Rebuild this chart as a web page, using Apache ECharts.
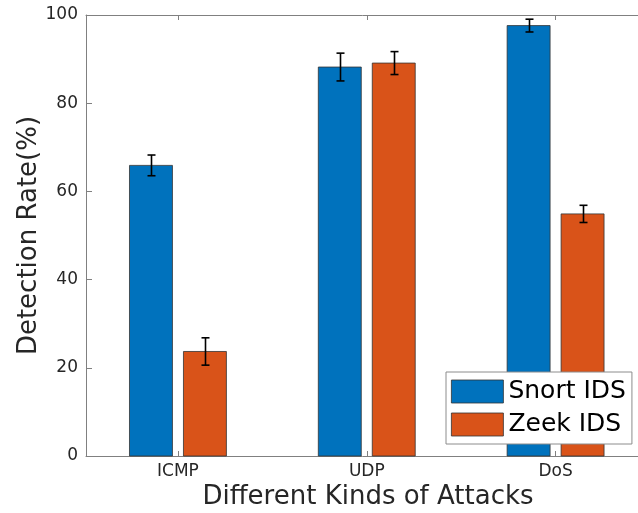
<!DOCTYPE html>
<html>
<head>
<meta charset="utf-8">
<script src="https://cdn.jsdelivr.net/npm/echarts@6/dist/echarts.min.js"></script>
<style>html,body{margin:0;padding:0;background:#fff}#c{width:638px;height:513px}</style>
</head>
<body>
<div id="c"></div>
<script>
const categories = ['ICMP', 'UDP', 'DoS'];
const categoryPositions = [1, 2, 3];
const snortValues = [65.9, 88.2, 97.6];
const snortErrors = [2.35, 3.15, 1.45];
const zeekValues = [23.7, 89.1, 54.9];
const zeekErrors = [3.1, 2.6, 1.95];
const yTicks = [0, 20, 40, 60, 80, 100];
const seriesNames = ['Snort IDS', 'Zeek IDS'];

const SNORT = '#0072BD';
const ZEEK = '#D95319';
const FONT = 'DejaVu Sans';
const TXT = '#262626';
const AX = '#808080';

const BAR_W = 0.2275;   // in x units
const OFFSET = 0.1429;  // group offset in x units
const CAP = 4;          // px

function makeRender(offset, color) {
  return function (params, api) {
    const x = api.value(0) + offset;
    const v = api.value(1);
    const e = api.value(2);
    const p0 = api.coord([x - BAR_W / 2, 0]);
    const p1 = api.coord([x + BAR_W / 2, v]);
    const c = api.coord([x, v]);
    const hi = api.coord([x, v + e]);
    const lo = api.coord([x, v - e]);
    const cx = Math.round(c[0]) + 0.5;
    return {
      type: 'group',
      children: [
        { type: 'rect', shape: { x: p0[0], y: p1[1], width: p1[0] - p0[0], height: p0[1] - p1[1] },
          style: { fill: color, stroke: '#333', lineWidth: 0.8 } },
        { type: 'line', shape: { x1: cx, y1: hi[1], x2: cx, y2: lo[1] }, style: { stroke: '#000', lineWidth: 1.6 }, z2: 10 },
        { type: 'line', shape: { x1: cx - CAP, y1: hi[1], x2: cx + CAP, y2: hi[1] }, style: { stroke: '#000', lineWidth: 1.6 }, z2: 10 },
        { type: 'line', shape: { x1: cx - CAP, y1: lo[1], x2: cx + CAP, y2: lo[1] }, style: { stroke: '#000', lineWidth: 1.6 }, z2: 10 }
      ]
    };
  };
}

const chart = echarts.init(document.getElementById('c'), null, { renderer: 'canvas' });
const xMin = 0.513, xMax = 3.5;
chart.setOption({
  animation: false,
  backgroundColor: '#fff',
  textStyle: { fontFamily: FONT },
  grid: { left: 86, right: -12, top: 15, bottom: 57, containLabel: false, outerBoundsMode: 'none' },
  legend: {
    left: 446, top: 372, orient: 'vertical',
    padding: [7, 6, 7, 5], itemGap: 8, itemWidth: 52, itemHeight: 23,
    icon: 'rect',
    backgroundColor: '#fff', borderColor: '#8c8c8c', borderWidth: 1, borderRadius: 0,
    textStyle: { fontFamily: FONT, fontSize: 25, color: '#000', lineHeight: 23, padding: [0, 0, 0, 0] },
    data: [
      { name: seriesNames[0], itemStyle: { color: SNORT, borderColor: '#333', borderWidth: 0.8 } },
      { name: seriesNames[1], itemStyle: { color: ZEEK, borderColor: '#333', borderWidth: 0.8 } }
    ]
  },
  xAxis: [
    {
      type: 'value', min: xMin, max: xMax, position: 'bottom',
      name: 'Different Kinds of Attacks', nameLocation: 'middle', nameGap: 28, nameMoveOverlap: false,
      nameTextStyle: { fontFamily: FONT, fontSize: 26, color: TXT },
      axisLine: { show: true, lineStyle: { color: AX, width: 1 } },
      axisTick: { show: true, inside: true, length: 5, customValues: categoryPositions, lineStyle: { color: AX } },
      axisLabel: { show: true, customValues: categoryPositions, margin: 7, fontFamily: FONT, fontSize: 17, color: TXT,
        formatter: function (v) { const i = categoryPositions.indexOf(Math.round(v)); return i >= 0 ? categories[i] : ''; } },
      splitLine: { show: false }
    },
    {
      type: 'value', min: xMin, max: xMax, position: 'top',
      axisLine: { show: true, lineStyle: { color: AX, width: 1 } },
      axisTick: { show: true, inside: true, length: 5, customValues: categoryPositions, lineStyle: { color: AX } },
      axisLabel: { show: false },
      splitLine: { show: false }
    }
  ],
  yAxis: {
    type: 'value', min: yTicks[0], max: yTicks[yTicks.length - 1], interval: 20,
    name: 'Detection Rate(%)', nameLocation: 'middle', nameRotate: 90, nameGap: 44, nameMoveOverlap: false,
    nameTextStyle: { fontFamily: FONT, fontSize: 26, color: TXT },
    axisLine: { show: true, lineStyle: { color: AX, width: 1 } },
    axisTick: { show: true, inside: true, length: 6, lineStyle: { color: AX } },
    axisLabel: { margin: 8, fontFamily: FONT, fontSize: 17, color: TXT },
    splitLine: { show: false }
  },
  series: [
    {
      name: seriesNames[0], type: 'custom', xAxisIndex: 0,
      itemStyle: { color: SNORT, borderColor: '#333', borderWidth: 0.8 },
      renderItem: makeRender(-OFFSET, SNORT),
      data: snortValues.map((v, i) => [categoryPositions[i], v, snortErrors[i]])
    },
    {
      name: seriesNames[1], type: 'custom', xAxisIndex: 0,
      itemStyle: { color: ZEEK, borderColor: '#333', borderWidth: 0.8 },
      renderItem: makeRender(OFFSET, ZEEK),
      data: zeekValues.map((v, i) => [categoryPositions[i], v, zeekErrors[i]])
    }
  ]
});
</script>
</body>
</html>
